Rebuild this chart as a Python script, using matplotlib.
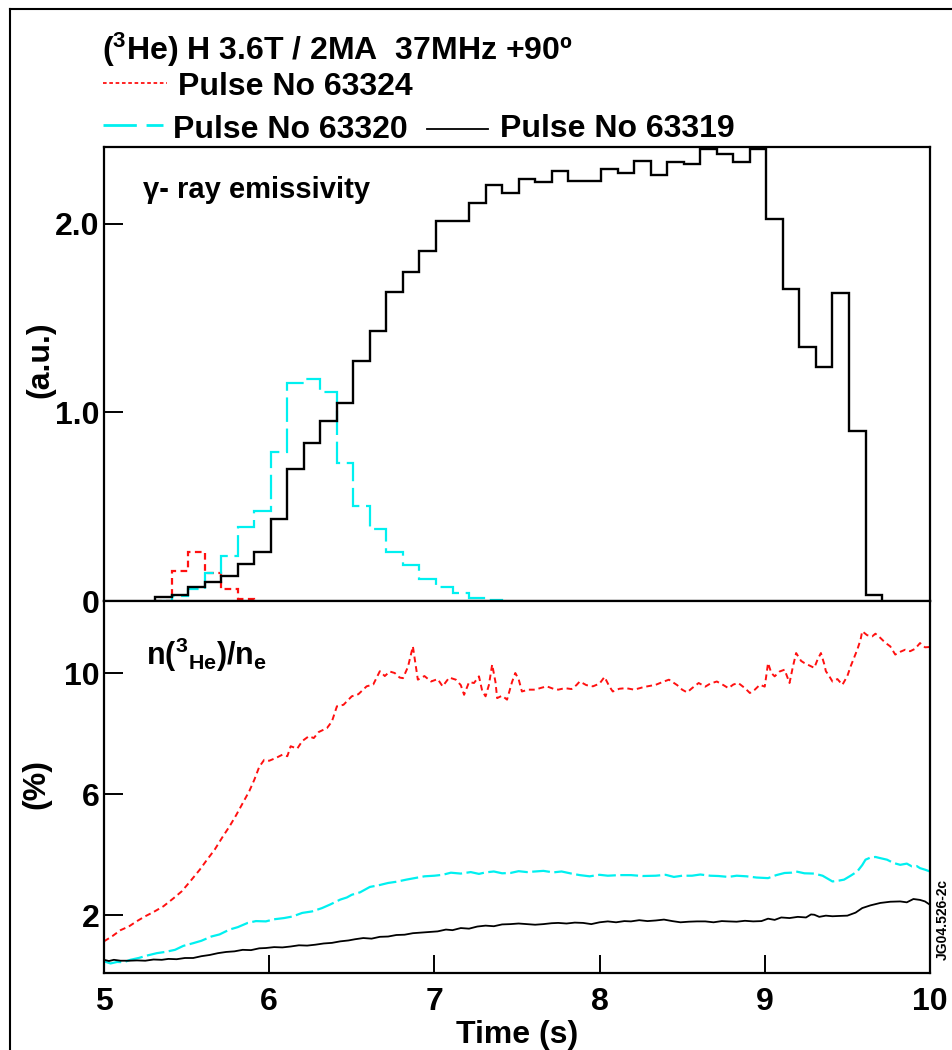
import numpy as np
import matplotlib
matplotlib.use('Agg')
import matplotlib.pyplot as plt
from matplotlib.lines import Line2D

plt.rcParams['font.family'] = ['Liberation Sans', 'DejaVu Sans']
plt.rcParams['font.weight'] = 'bold'
plt.rcParams['mathtext.fontset'] = 'custom'
plt.rcParams['mathtext.rm'] = 'Liberation Sans:bold'
plt.rcParams['mathtext.bf'] = 'Liberation Sans:bold'
plt.rcParams['mathtext.it'] = 'Liberation Sans:bold:italic'
plt.rcParams['mathtext.default'] = 'bf'

# gamma-ray emissivity, 0.1 s bins starting at 5.31 s
bin_start = 5.31
bin_width = 0.1
gamma_63319 = [0.02, 0.03, 0.073, 0.102, 0.134, 0.196, 0.26, 0.433, 0.699, 0.837,
               0.955, 1.049, 1.273, 1.432, 1.641, 1.747, 1.857, 2.018, 2.018, 2.113,
               2.205, 2.163, 2.237, 2.22, 2.281, 2.228, 2.228, 2.29, 2.269, 2.336,
               2.26, 2.33, 2.317, 2.40, 2.371, 2.33, 2.40, 2.025, 1.653, 1.346,
               1.24, 1.632, 0.902, 0.032]
gamma_63320 = [0.0, 0.028, 0.062, 0.147, 0.24, 0.391, 0.477, 0.792, 1.155, 1.178,
               1.11, 0.73, 0.506, 0.382, 0.262, 0.191, 0.115, 0.073, 0.041, 0.018, 0.005]
gamma_63324 = [0.0, 0.159, 0.262, 0.147, 0.062, 0.009]

# n(3He)/ne in %
t_63324 = [5.00, 5.05, 5.10, 5.15, 5.20, 5.25, 5.30, 5.36, 5.42, 5.47, 5.52, 5.58, 5.62, 5.67,
           5.72, 5.76, 5.80, 5.84, 5.88, 5.91, 5.94, 5.97, 6.00, 6.04, 6.08, 6.11, 6.13, 6.17,
           6.20, 6.24, 6.27, 6.30, 6.35, 6.38, 6.41, 6.45, 6.50, 6.54, 6.59, 6.63, 6.67, 6.70,
           6.73, 6.76, 6.79, 6.81, 6.84, 6.87, 6.90, 6.94, 6.98, 7.02, 7.05, 7.09, 7.13, 7.16,
           7.18, 7.21, 7.24, 7.27, 7.29, 7.31, 7.33, 7.35, 7.37, 7.38, 7.41, 7.44, 7.47, 7.49,
           7.51, 7.53, 7.57, 7.61, 7.64, 7.68, 7.72, 7.75, 7.79, 7.83, 7.86, 7.88, 7.92, 7.96,
           8.00, 8.03, 8.06, 8.08, 8.12, 8.16, 8.21, 8.27, 8.31, 8.34, 8.38, 8.42, 8.47, 8.50,
           8.53, 8.56, 8.60, 8.64, 8.67, 8.71, 8.75, 8.78, 8.81, 8.84, 8.88, 8.91, 8.94, 8.97,
           9.00, 9.02, 9.04, 9.06, 9.09, 9.12, 9.15, 9.17, 9.19, 9.22, 9.24, 9.27, 9.30, 9.32,
           9.34, 9.36, 9.37, 9.39, 9.41, 9.44, 9.47, 9.50, 9.52, 9.54, 9.56, 9.58, 9.59, 9.62,
           9.65, 9.67, 9.70, 9.73, 9.76, 9.79, 9.82, 9.85, 9.88, 9.91, 9.94, 9.97, 10.00]
he_63324 = [1.13, 1.30, 1.50, 1.62, 1.80, 1.96, 2.10, 2.29, 2.55, 2.78, 3.10, 3.50, 3.80, 4.16,
            4.60, 4.93, 5.30, 5.70, 6.10, 6.47, 6.90, 7.13, 7.10, 7.19, 7.30, 7.25, 7.58, 7.50,
            7.75, 7.91, 7.85, 8.05, 8.18, 8.40, 8.90, 8.95, 9.23, 9.30, 9.56, 9.62, 10.06, 9.90,
            10.05, 10.00, 9.85, 9.83, 10.20, 10.88, 9.78, 9.90, 9.72, 9.80, 9.56, 9.85, 9.78, 9.60,
            9.28, 9.70, 9.67, 9.89, 9.40, 9.23, 9.60, 10.28, 9.70, 9.17, 9.25, 9.12, 9.70, 10.00,
            9.80, 9.39, 9.45, 9.45, 9.50, 9.56, 9.48, 9.45, 9.50, 9.47, 9.60, 9.72, 9.60, 9.56,
            9.65, 9.87, 9.55, 9.39, 9.48, 9.50, 9.45, 9.54, 9.58, 9.61, 9.70, 9.78, 9.60, 9.45,
            9.36, 9.50, 9.67, 9.55, 9.65, 9.72, 9.60, 9.50, 9.62, 9.67, 9.50, 9.34, 9.45, 9.61,
            9.55, 10.33, 10.00, 9.89, 10.05, 10.11, 9.67, 10.20, 10.66, 10.40, 10.33, 10.25, 10.17, 10.45,
            10.66, 10.30, 10.06, 9.90, 9.72, 9.80, 9.61, 9.90, 10.22, 10.50, 10.77, 11.10, 11.38, 11.25,
            11.21, 11.30, 11.16, 11.00, 10.88, 10.61, 10.70, 10.77, 10.72, 10.80, 10.99, 10.85, 10.86]

t_63320 = [5.00, 5.04, 5.08, 5.12, 5.16, 5.21, 5.26, 5.32, 5.37, 5.43, 5.48, 5.54, 5.59, 5.65,
           5.70, 5.76, 5.81, 5.87, 5.92, 5.98, 6.03, 6.09, 6.14, 6.20, 6.26, 6.32, 6.37, 6.43,
           6.47, 6.50, 6.55, 6.61, 6.66, 6.72, 6.77, 6.83, 6.88, 6.94, 7.00, 7.05, 7.10, 7.16,
           7.22, 7.27, 7.31, 7.36, 7.41, 7.46, 7.51, 7.56, 7.61, 7.66, 7.72, 7.77, 7.83, 7.88,
           7.94, 8.00, 8.05, 8.12, 8.19, 8.26, 8.34, 8.40, 8.45, 8.50, 8.56, 8.61, 8.67, 8.72,
           8.78, 8.83, 8.89, 8.95, 9.02, 9.07, 9.12, 9.16, 9.19, 9.24, 9.30, 9.35, 9.41, 9.45,
           9.48, 9.52, 9.56, 9.59, 9.61, 9.64, 9.67, 9.70, 9.74, 9.78, 9.82, 9.86, 9.89, 9.92,
           9.94, 9.97, 10.00]
he_63320 = [0.47, 0.40, 0.45, 0.44, 0.52, 0.58, 0.66, 0.74, 0.78, 0.85, 0.98, 1.07, 1.15, 1.29,
            1.36, 1.52, 1.60, 1.74, 1.80, 1.79, 1.86, 1.90, 1.95, 2.07, 2.12, 2.23, 2.35, 2.51,
            2.58, 2.67, 2.75, 2.93, 2.98, 3.06, 3.10, 3.17, 3.22, 3.28, 3.30, 3.33, 3.40, 3.37,
            3.42, 3.36, 3.41, 3.44, 3.38, 3.39, 3.45, 3.42, 3.44, 3.46, 3.41, 3.44, 3.37, 3.32,
            3.28, 3.33, 3.30, 3.32, 3.32, 3.29, 3.30, 3.33, 3.26, 3.30, 3.30, 3.34, 3.30, 3.29,
            3.26, 3.30, 3.28, 3.24, 3.22, 3.32, 3.39, 3.40, 3.44, 3.38, 3.37, 3.30, 3.11, 3.14,
            3.17, 3.30, 3.44, 3.65, 3.83, 3.90, 3.92, 3.88, 3.83, 3.72, 3.66, 3.70, 3.61, 3.62,
            3.55, 3.50, 3.44]

t_63319 = [5.00, 5.03, 5.06, 5.10, 5.15, 5.20, 5.25, 5.30, 5.35, 5.39, 5.44, 5.49, 5.54, 5.59,
           5.64, 5.69, 5.74, 5.79, 5.84, 5.89, 5.94, 5.98, 6.03, 6.08, 6.13, 6.18, 6.23, 6.28,
           6.33, 6.38, 6.43, 6.48, 6.52, 6.57, 6.62, 6.67, 6.72, 6.77, 6.82, 6.87, 6.92, 6.97,
           7.02, 7.07, 7.11, 7.16, 7.21, 7.26, 7.31, 7.36, 7.41, 7.46, 7.51, 7.56, 7.61, 7.66,
           7.71, 7.75, 7.80, 7.85, 7.90, 7.95, 8.00, 8.05, 8.10, 8.15, 8.19, 8.24, 8.29, 8.34,
           8.39, 8.44, 8.49, 8.54, 8.59, 8.64, 8.69, 8.74, 8.78, 8.83, 8.88, 8.93, 8.98, 9.02,
           9.06, 9.10, 9.15, 9.20, 9.25, 9.28, 9.30, 9.33, 9.37, 9.41, 9.45, 9.50, 9.55, 9.59,
           9.64, 9.70, 9.76, 9.82, 9.86, 9.90, 9.94, 9.97, 10.00]
he_63319 = [0.52, 0.48, 0.52, 0.49, 0.49, 0.50, 0.49, 0.53, 0.52, 0.55, 0.54, 0.58, 0.58, 0.64,
            0.68, 0.74, 0.78, 0.80, 0.85, 0.84, 0.90, 0.91, 0.94, 0.93, 0.96, 1.00, 0.99, 1.02,
            1.06, 1.08, 1.13, 1.16, 1.20, 1.24, 1.22, 1.28, 1.29, 1.34, 1.35, 1.40, 1.42, 1.44,
            1.46, 1.52, 1.50, 1.57, 1.55, 1.62, 1.65, 1.63, 1.69, 1.70, 1.72, 1.70, 1.68, 1.70,
            1.73, 1.74, 1.72, 1.75, 1.74, 1.70, 1.76, 1.79, 1.76, 1.80, 1.79, 1.83, 1.80, 1.82,
            1.85, 1.80, 1.76, 1.78, 1.79, 1.79, 1.76, 1.80, 1.79, 1.78, 1.81, 1.79, 1.80, 1.88,
            1.84, 1.92, 1.90, 1.94, 1.92, 2.02, 2.01, 1.94, 1.98, 1.96, 1.97, 1.98, 2.08, 2.23,
            2.32, 2.40, 2.44, 2.45, 2.42, 2.53, 2.50, 2.45, 2.34]

RED = '#ff1010'
CYAN = '#00f0f0'
red_dash = (0, (3, 2))
cyan_dash = (0, (11, 3))

fig = plt.figure(figsize=(9.53, 10.5), dpi=100)
ax1 = fig.add_axes([0.1091, 0.4276, 0.8667, 0.4324])
ax2 = fig.add_axes([0.1091, 0.0733, 0.8667, 0.3543])

def edges(vals):
    return bin_start + bin_width * np.arange(len(vals) + 1)

ax1.stairs(gamma_63324, edges(gamma_63324), baseline=0, color=RED, lw=1.6, linestyle=red_dash)
ax1.stairs(gamma_63320, edges(gamma_63320), baseline=0, color=CYAN, lw=1.6, linestyle=cyan_dash)
ax1.stairs(gamma_63319, edges(gamma_63319), baseline=0, color='black', lw=1.7)

ax2.plot(t_63324, he_63324, color=RED, lw=1.4, linestyle=red_dash)
ax2.plot(t_63320, he_63320, color=CYAN, lw=1.6, linestyle=(0, (8, 2)))
ax2.plot(t_63319, he_63319, color='black', lw=1.3)

for ax in (ax1, ax2):
    ax.set_xlim(5, 10)
    for s in ax.spines.values():
        s.set_linewidth(1.6)
    ax.tick_params(direction='in', length=14, width=1.4, labelsize=23, pad=3)

ax1.set_ylim(0, 2.408)
ax1.set_yticks([0, 1, 2])
ax1.set_yticklabels(['0', '1.0', '2.0'])
ax1.tick_params(axis='x', length=0, labelbottom=False)
ax1.tick_params(axis='y', length=14)

ax2.set_ylim(0.083, 12.38)
ax2.set_yticks([2, 6, 10])
ax2.set_xticks([5, 6, 7, 8, 9, 10])
ax2.tick_params(axis='x', length=13, pad=10)
ax2.set_xlabel('Time (s)', fontsize=23, fontweight='bold', labelpad=2)

ax1.text(0.047, 0.905, 'γ- ray emissivity', transform=ax1.transAxes,
         fontsize=21, fontweight='bold', va='center', ha='left')
ax2.text(0.051, 0.855, r'n($^{3}$$_{\rm He}$)/n$_{\rm e}$', transform=ax2.transAxes,
         fontsize=22, fontweight='bold', va='center', ha='left')

fig.text(40 / 953, 1 - 360 / 1050, '(a.u.)', rotation=90, fontsize=23,
         fontweight='bold', ha='center', va='center')
fig.text(36 / 953, 1 - 784 / 1050, '(%)', rotation=90, fontsize=23,
         fontweight='bold', ha='center', va='center')
fig.text(943 / 953, 1 - 920 / 1050, 'JG04.526-2c', rotation=90, fontsize=10,
         fontweight='bold', ha='center', va='center')

# header and legend
fig.text(102 / 953, 1 - 60 / 1050, r'($^{3}$He) H 3.6T / 2MA  37MHz +90º',
         fontsize=23, fontweight='bold', ha='left', va='baseline')
fig.add_artist(Line2D([103 / 953, 167 / 953], [1 - 83 / 1050] * 2, color=RED,
                      lw=1.3, linestyle=(0, (2, 1.5))))
fig.text(178 / 953, 1 - 95 / 1050, 'Pulse No 63324', fontsize=23,
         fontweight='bold', ha='left', va='baseline')
fig.add_artist(Line2D([103 / 953, 163 / 953], [1 - 125 / 1050] * 2, color=CYAN,
                      lw=2, linestyle=(0, (12, 3.5))))
fig.text(173 / 953, 1 - 138 / 1050, 'Pulse No 63320', fontsize=23,
         fontweight='bold', ha='left', va='baseline')
fig.add_artist(Line2D([427 / 953, 488 / 953], [1 - 129 / 1050] * 2, color='black', lw=1.3))
fig.text(500 / 953, 1 - 137 / 1050, 'Pulse No 63319', fontsize=23,
         fontweight='bold', ha='left', va='baseline')

# outer frame (top and left edges)
fig.add_artist(Line2D([10 / 953, 1.0], [1 - 9 / 1050] * 2, color='black', lw=1.5))
fig.add_artist(Line2D([10 / 953, 10 / 953], [0, 1 - 9 / 1050], color='black', lw=1.5))

fig.savefig('out.png', dpi=100)
